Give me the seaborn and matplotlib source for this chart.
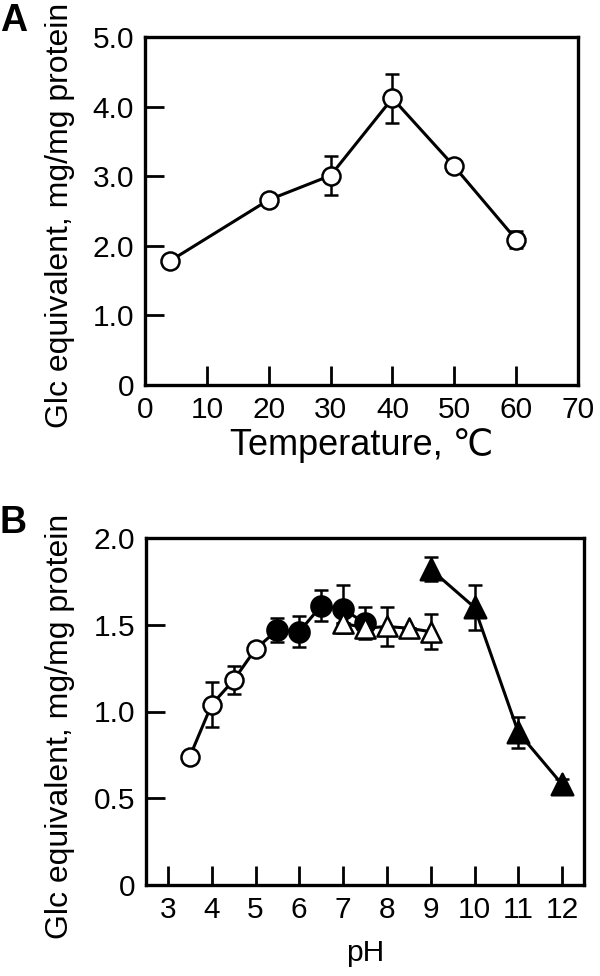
import numpy as np
import pandas as pd
import matplotlib
matplotlib.use("Agg")
import matplotlib.pyplot as plt
import seaborn as sns

# Panel A data
temp = [4, 20, 30, 40, 50, 60]
temp_val = [1.78, 2.66, 3.01, 4.12, 3.14, 2.09]
temp_err = [0.0, 0.0, 0.28, 0.35, 0.0, 0.12]

# Panel B data
ph_oc = [3.5, 4.0, 4.5, 5.0]
val_oc = [0.74, 1.04, 1.18, 1.36]
err_oc = [0.0, 0.13, 0.08, 0.0]

ph_fc = [5.5, 6.0, 6.5, 7.0, 7.5]
val_fc = [1.47, 1.46, 1.61, 1.59, 1.51]
err_fc = [0.07, 0.09, 0.09, 0.14, 0.09]

ph_ot = [7.0, 7.5, 8.0, 8.5, 9.0]
val_ot = [1.51, 1.48, 1.49, 1.48, 1.46]
err_ot = [0.0, 0.0, 0.11, 0.0, 0.10]

ph_ft = [9.0, 10.0, 11.0, 12.0]
val_ft = [1.82, 1.60, 0.88, 0.58]
err_ft = [0.07, 0.13, 0.09, 0.03]

a_xticks = [0, 10, 20, 30, 40, 50, 60, 70]
a_yticks = [0, 1.0, 2.0, 3.0, 4.0, 5.0]
a_yticklabels = ["0", "1.0", "2.0", "3.0", "4.0", "5.0"]
b_xticks = [3, 4, 5, 6, 7, 8, 9, 10, 11, 12]
b_yticks = [0, 0.5, 1.0, 1.5, 2.0]
b_yticklabels = ["0", "0.5", "1.0", "1.5", "2.0"]

sns.set_style("ticks")
plt.rcParams['font.family'] = ['Liberation Sans', 'DejaVu Sans']
plt.rcParams['text.color'] = 'black'
plt.rcParams['axes.labelcolor'] = 'black'
plt.rcParams['xtick.color'] = 'black'
plt.rcParams['ytick.color'] = 'black'

fig = plt.figure(figsize=(6.0, 9.76), dpi=100)
axA = fig.add_axes([145/600, 1-385/976, (578-145)/600, (385-37)/976])
axB = fig.add_axes([146/600, 1-885/976, (584-146)/600, (885-538)/976])

LW = 2.2
CAP = 5
TFS = 21.5
LFS = 23
ylab = "Glc equivalent, mg/mg protein"

def style(ax):
    for s in ax.spines.values():
        s.set_linewidth(2.4)
        s.set_color("black")
    ax.tick_params(direction="in", length=13.5, width=2.0, labelsize=TFS,
                   colors="black", pad=8)

def draw(ax, x, y, e, marker, face, ms, line=True):
    df = pd.DataFrame({"x": x, "y": y})
    if line:
        sns.lineplot(data=df, x="x", y="y", ax=ax, color="black", lw=LW,
                     zorder=2, sort=False)
    ee = np.array(e)
    ax.errorbar(x, y, yerr=ee, fmt="none", ecolor="black", elinewidth=1.8,
                capsize=CAP, capthick=1.8, zorder=3)
    sns.scatterplot(data=df, x="x", y="y", ax=ax, marker=marker, s=ms**2,
                    facecolor=face, edgecolor="black", linewidth=1.8, zorder=4)

# Panel A
draw(axA, temp, temp_val, temp_err, "o", "white", 13)
axA.set_xlim(0, 70)
axA.set_ylim(0, 5.0)
axA.set_xticks(a_xticks)
axA.set_yticks(a_yticks)
axA.set_yticklabels(a_yticklabels)
style(axA)
axA.set_xlabel("Temperature, \u2103", fontsize=26, labelpad=3)
axA.set_ylabel(ylab, fontsize=LFS)
axA.yaxis.set_label_coords(-0.162, 0.486)

# Panel B
df_line = pd.DataFrame({"x": ph_oc + ph_fc, "y": val_oc + val_fc})
sns.lineplot(data=df_line, x="x", y="y", ax=axB, color="black", lw=LW, zorder=2, sort=False)
draw(axB, ph_oc, val_oc, err_oc, "o", "white", 13, line=False)
draw(axB, ph_fc, val_fc, err_fc, "o", "black", 14.5, line=False)
draw(axB, ph_ot, val_ot, err_ot, "^", "white", 14.5)
draw(axB, ph_ft, val_ft, err_ft, "^", "black", 15.5)
axB.set_xlim(2.5, 12.5)
axB.set_ylim(0, 2.0)
axB.set_xticks(b_xticks)
axB.set_yticks(b_yticks)
axB.set_yticklabels(b_yticklabels)
style(axB)
axB.set_xlabel("pH", fontsize=TFS, labelpad=11)
axB.set_ylabel(ylab, fontsize=LFS)
axB.yaxis.set_label_coords(-0.162, 0.458)

fig.text(0/600, 1-3/976, "A", fontsize=27, fontweight="bold", va="top", ha="left")
fig.text(0/600, 1-505/976, "B", fontsize=27, fontweight="bold", va="top", ha="left")

fig.savefig("out.png", dpi=100, facecolor="white")
